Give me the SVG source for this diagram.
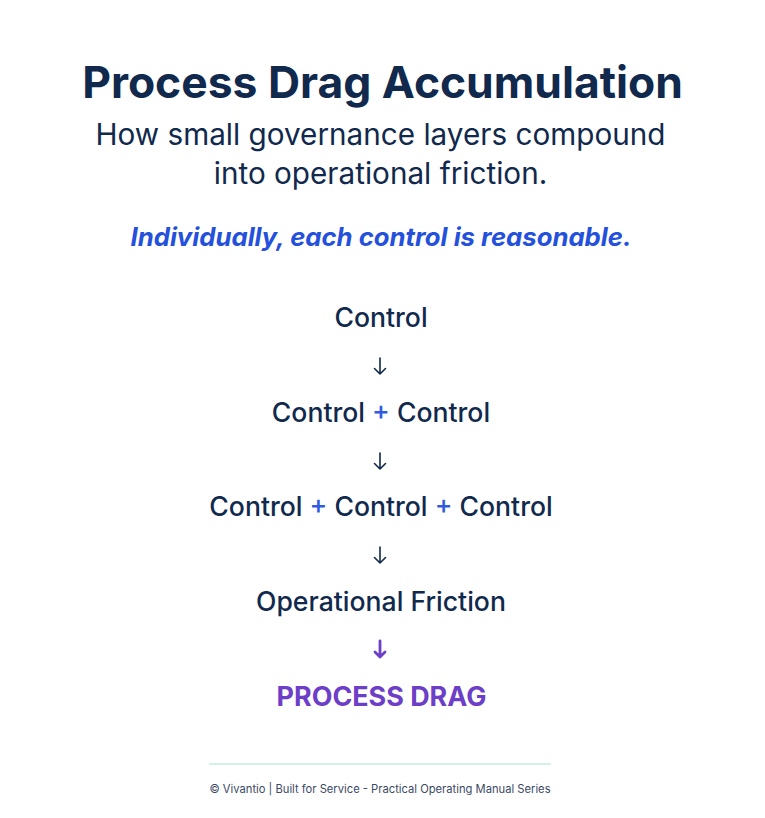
<svg xmlns="http://www.w3.org/2000/svg" width="765" height="818" viewBox="0 0 765 818">
<style>
.t{font-family:Inter,"Noto Sans","Liberation Sans",sans-serif;text-anchor:middle}
.title{font-size:44.4px;font-weight:700;fill:#10294d}
.sub{font-size:29.7px;font-weight:400;fill:#10294d}
.em{font-size:25.7px;font-weight:700;font-style:italic;fill:#2450dc}
.step{font-size:26.6px;font-weight:500;fill:#10294d}
.plus{fill:#2f5be0}
.drag{font-size:26.9px;font-weight:700;fill:#6d3fc8}
.foot{font-size:11.2px;fill:#3b4a66}
.arr{fill:none;stroke:#10294d;stroke-width:1.6;stroke-linecap:round;stroke-linejoin:round}
.arrp{fill:none;stroke:#6d3fc8;stroke-width:2.8;stroke-linecap:round;stroke-linejoin:round}
</style>
<rect width="765" height="818" fill="#ffffff"/>
<g id="header">
<text class="t title" x="382.5" y="98">Process Drag Accumulation</text>
<text class="t sub" x="380.5" y="145">How small governance layers compound</text>
<text class="t sub" x="380.5" y="184">into operational friction.</text>
<text class="t em" x="381" y="246">Individually, each control is reasonable.</text>
</g>
<g id="node-1"><text class="t step" x="381" y="327">Control</text></g>
<g id="node-2"><text class="t step" x="381" y="422">Control <tspan class="plus">+</tspan> Control</text></g>
<g id="node-3"><text class="t step" x="381" y="516">Control <tspan class="plus">+</tspan> Control <tspan class="plus">+</tspan> Control</text></g>
<g id="node-4"><text class="t step" x="381" y="611">Operational Friction</text></g>
<g id="node-5"><text class="t drag" x="381.5" y="706">PROCESS DRAG</text></g>
<g id="connectors">
<path class="arr" d="M380 358V374M374.5 368.5L380 374L385.5 368.5"/>
<path class="arr" d="M380 453V469M374.5 463.5L380 469L385.5 463.5"/>
<path class="arr" d="M380 547V563M374.5 557.5L380 563L385.5 557.5"/>
<path class="arrp" d="M380 641V657M375 652L380 657L385 652"/>
</g>
<g id="footer">
<line x1="209" y1="764" x2="551" y2="764" stroke="#c8ecdc" stroke-width="1.5"/>
<text class="t foot" x="380" y="793">© Vivantio | Built for Service - Practical Operating Manual Series</text>
</g>
</svg>
